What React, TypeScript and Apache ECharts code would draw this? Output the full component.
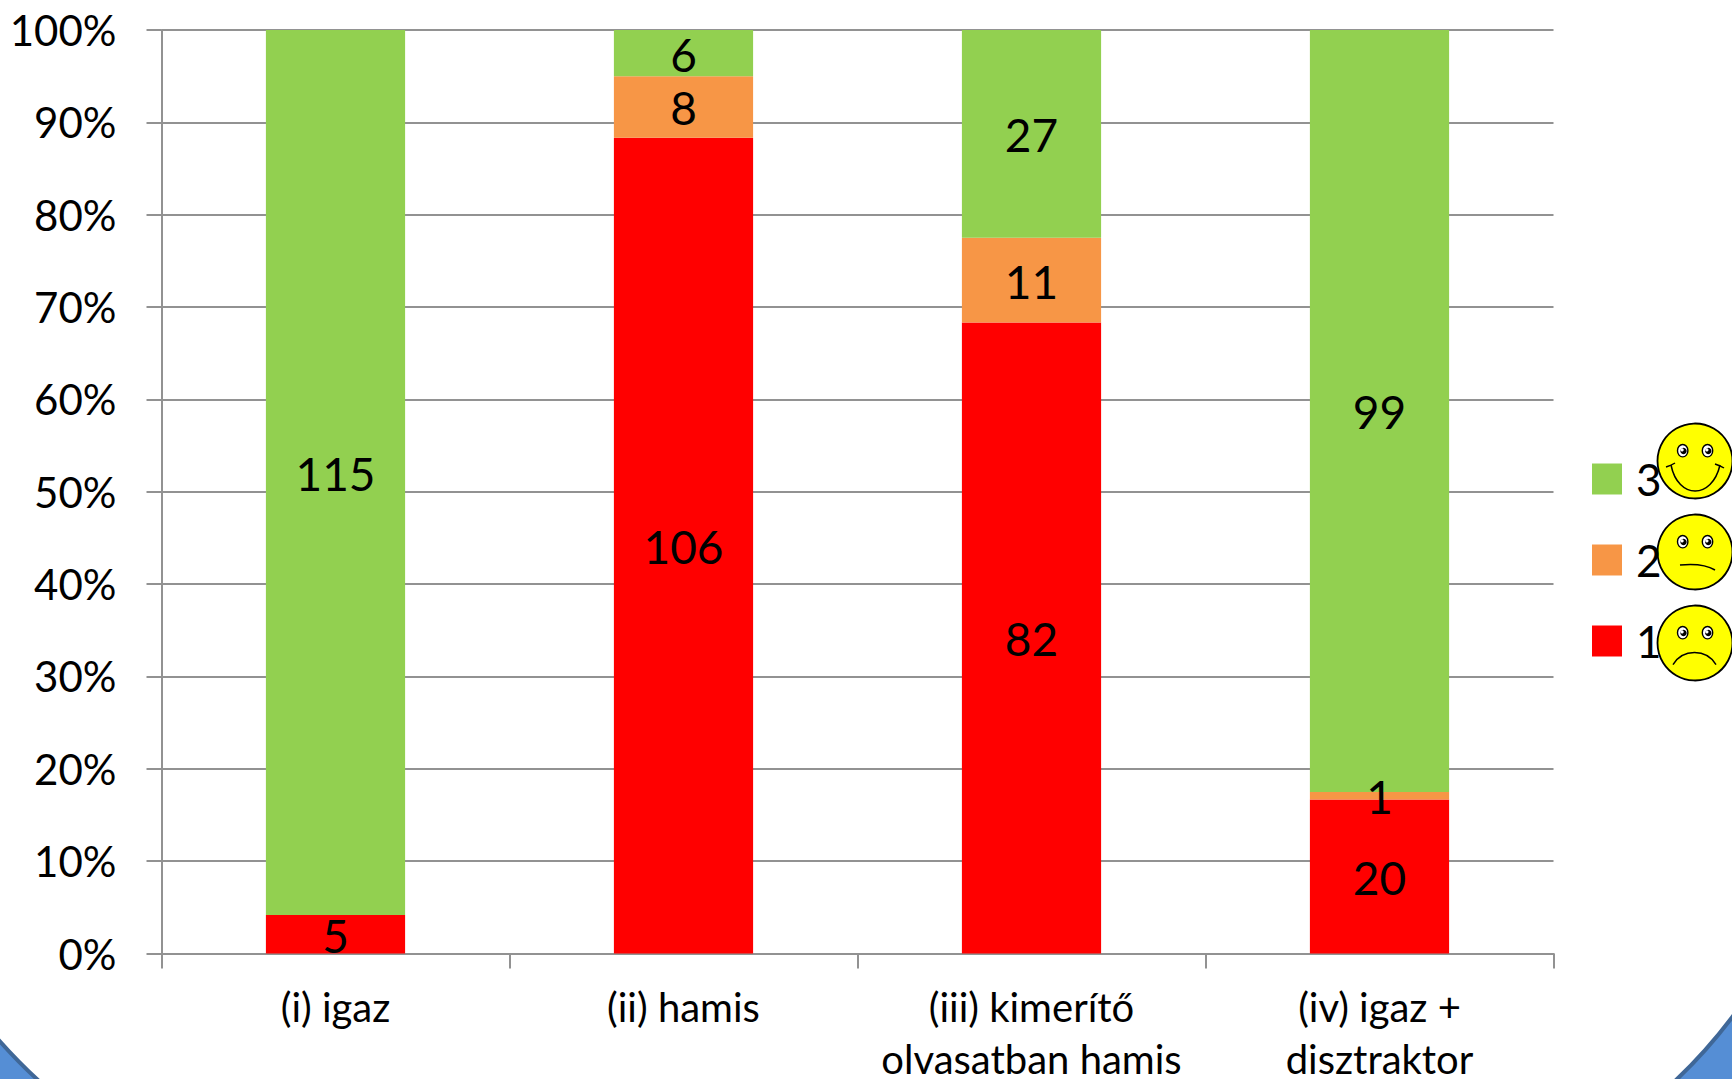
import React, { useEffect, useRef } from "react";
import * as echarts from "echarts";

const categories = ["(i) igaz", "(ii) hamis", "(iii) kimerítő\nolvasatban hamis", "(iv) igaz +\ndisztraktor"];
const values1 = [5, 106, 82, 20];
const values2 = [0, 8, 11, 1];
const values3 = [115, 6, 27, 99];
const FONT = "Lato, 'Open Sans', sans-serif";

echarts.graphic.registerShape("cornerL", echarts.graphic.extendPath("M-4 1037 Q 18 1062 39 1081 L-4 1081 Z", {}));
echarts.graphic.registerShape("cornerR", echarts.graphic.extendPath("M1736 1012 Q 1708 1050 1675 1081 L1736 1081 Z", {}));

function eye(cx: number, cy: number) {
  return [
    { type: "ellipse", shape: { cx, cy, rx: 5.2, ry: 6.2 }, style: { fill: "#ffffff", stroke: "#000000", lineWidth: 1.4 } },
    { type: "circle", shape: { cx: cx + 0.8, cy: cy + 0.2, r: 3.2 }, style: { fill: "#000000" } },
    { type: "circle", shape: { cx: cx - 0.6, cy: cy - 0.8, r: 1.6 }, style: { fill: "#ffffff" } },
  ];
}

function mouthLine(shape: any) {
  return { type: "bezierCurve", shape, style: { fill: "none", stroke: "#000000", lineWidth: 1.5 } };
}

function face(cy: number, mouth: any[]) {
  return {
    type: "group",
    x: 1695,
    y: cy,
    z: 20,
    children: [
      { type: "circle", shape: { cx: 0, cy: 0, r: 37.5 }, style: { fill: "#ffff00", stroke: "#000000", lineWidth: 1.8 } },
      ...eye(-12.3, -10.3),
      ...eye(12.5, -10.3),
      ...mouth,
    ],
  };
}

export default function App() {
  const ref = useRef<HTMLDivElement>(null);
  useEffect(() => {
    const chart = echarts.init(ref.current!, null, { renderer: "svg" });
    const totals = categories.map((_, i) => values1[i] + values2[i] + values3[i]);
    const makeSeries = (name: string, vals: number[], color: string) => ({
      name,
      type: "bar",
      stack: "all",
      barWidth: "40%",
      itemStyle: { color },
      emphasis: { disabled: true },
      data: vals.map((v, i) => (v / totals[i]) * 100),
      label: {
        show: true,
        position: "inside",
        color: "#000000",
        fontFamily: FONT,
        fontSize: 46,
        offset: [0, 1],
        formatter: (p: any) => (vals[p.dataIndex] ? String(vals[p.dataIndex]) : ""),
      },
    });
    chart.setOption({
      animation: false,
      backgroundColor: "#ffffff",
      grid: { left: 161.5, right: 178.5, top: 30, bottom: 125.5, outerBoundsMode: "none" },
      legend: {
        orient: "vertical",
        left: 1587,
        top: 452,
        itemWidth: 30,
        itemHeight: 31,
        itemGap: 37,
        icon: "rect",
        data: ["3", "2", "1"],
        selectedMode: false,
        textStyle: { fontFamily: FONT, fontSize: 44, color: "#000000", padding: [0, 0, 0, 9] },
      },
      xAxis: {
        type: "category",
        data: categories,
        axisLine: { lineStyle: { color: "#929292", width: 2 } },
        axisTick: { show: true, length: 15, alignWithLabel: false, lineStyle: { color: "#929292", width: 2 } },
        axisLabel: { color: "#000000", fontFamily: FONT, fontSize: 40, lineHeight: 52, margin: 27, interval: 0 },
      },
      yAxis: {
        type: "value",
        min: 0,
        max: 100,
        interval: 10,
        axisLine: { show: true, lineStyle: { color: "#929292", width: 2 } },
        axisTick: { show: true, length: 15, lineStyle: { color: "#929292", width: 2 } },
        splitLine: { show: true, lineStyle: { color: "#929292", width: 2 } },
        axisLabel: { color: "#000000", fontFamily: FONT, fontSize: 42, margin: 45, padding: [0, 0, 5, 0], formatter: "{value}%" },
      },
      series: [
        makeSeries("1", values1, "#ff0000"),
        makeSeries("2", values2, "#f79646"),
        makeSeries("3", values3, "#92d050"),
      ],
      graphic: [
        { type: "cornerL", style: { fill: "#558ed5", stroke: "#3f6797", lineWidth: 4 } },
        { type: "cornerR", style: { fill: "#558ed5", stroke: "#3f6797", lineWidth: 4 } },
        face(461, [
          mouthLine({ x1: -24, y1: 4, x2: 25, y2: 4, cpx1: -17, cpy1: 38.7, cpx2: 17, cpy2: 38.7 }),
          mouthLine({ x1: -29, y1: 6, x2: -20, y2: 2, cpx1: -26, cpy1: 5, cpx2: -23, cpy2: 4 }),
          mouthLine({ x1: 20, y1: 3, x2: 29, y2: 7, cpx1: 23, cpy1: 4, cpx2: 26, cpy2: 5 }),
        ]),
        face(552, [mouthLine({ x1: -15, y1: 13, x2: 20, y2: 18, cpx1: -5, cpy1: 12, cpx2: 10, cpy2: 12 })]),
        face(643, [mouthLine({ x1: -22, y1: 21.6, x2: 21, y2: 21.6, cpx1: -12, cpy1: 5.6, cpx2: 11, cpy2: 5.6 })]),
      ],
    });
    return () => chart.dispose();
  }, []);
  return <div ref={ref} style={{ position: "fixed", left: 0, top: 0, width: 1732, height: 1079 }} />;
}
